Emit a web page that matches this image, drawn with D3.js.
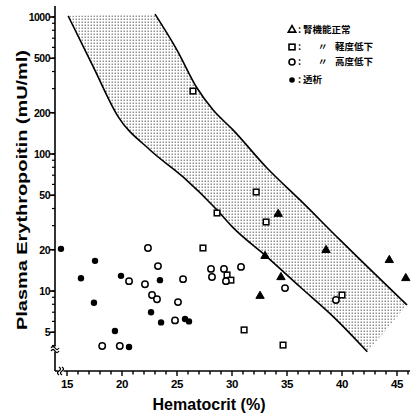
<!DOCTYPE html>
<html><head><meta charset="utf-8">
<script src="https://cdn.jsdelivr.net/npm/d3@7"></script>
<style>body{margin:0;background:#fff}svg{display:block}</style>
</head><body>
<svg id="c" width="413" height="417"></svg>
<script>
// ---- data ----
const xTicksMajor = [15, 20, 25, 30, 35, 40, 45];
const yTickLabels = [5, 10, 20, 50, 100, 200, 500, 1000];
// shaded normal range band (Hct %, EPO mU/ml)
const bandLower = [[15.1,1020],[17.4,430],[19.6,190],[22.55,107],[25.55,68],[28.64,39],[30.1,29],[33.2,17.7],[36.2,10.7],[39.2,6.5],[42.3,3.6]];
const bandUpper = [[23.0,1050],[25.0,574],[26.82,303],[28.27,210],[30.09,150],[33.18,79],[36.18,46.2],[39.82,23.6],[45.91,7.9]];
// 腎機能正常
const normalRenal = [[34.2,36.5],[33.0,18.0],[38.55,19.9],[44.3,16.8],[45.8,12.4],[34.45,12.6],[32.55,9.2]];
// 軽度低下
const mildDecrease = [[26.45,288],[32.2,52.8],[28.64,37.1],[33.1,31.9],[27.36,20.6],[29.55,13.1],[29.9,12.0],[40.0,9.35],[31.1,5.2],[34.64,4.03]];
// 高度低下
const severeDecrease = [[18.2,3.97],[19.8,3.97],[20.64,11.8],[22.36,20.6],[23.27,15.2],[22.09,11.2],[22.73,9.35],[23.18,8.7],[24.82,6.1],[25.09,8.3],[25.55,12.2],[28.09,14.5],[28.18,12.65],[29.27,14.5],[29.45,11.8],[30.82,15.0],[34.82,10.5],[39.45,8.6]];
// 透析
const dialysis = [[14.45,20.3],[17.55,16.6],[16.27,12.4],[19.91,12.9],[17.45,8.2],[19.36,5.1],[20.64,3.9],[23.45,12.0],[22.64,7.0],[23.55,5.9],[25.73,6.25],[26.09,6.0]];
const legendLabels = ["腎機能正常", "軽度低下", "高度低下", "透析"];

// ---- scales ----
const svg = d3.select("#c");
const x = d3.scaleLinear().domain([15, 45]).range([67, 397]);
const y = d3.scaleLog().domain([10, 1000]).range([291, 17]);
const axisX = 55, axisY = 371;

// dot pattern
const defs = svg.append("defs");
const pat = defs.append("pattern").attr("id","dots").attr("width",3).attr("height",3).attr("patternUnits","userSpaceOnUse");
pat.append("rect").attr("x",0.6).attr("y",0.6).attr("width",1.2).attr("height",1.2).attr("fill","#555");

// band
const bandPts = bandLower.map(d => [x(d[0]), y(d[1])]);
const upperPts = bandUpper.map(d => [x(d[0]), y(d[1])]);
const curveGen = d3.line().curve(d3.curveMonotoneX);
const lowerPath = curveGen(bandPts);
const upperPath = curveGen(upperPts);
const lowerNode = svg.append("path").attr("d", lowerPath).attr("fill","none").attr("stroke","none").node();
const upperNode = svg.append("path").attr("d", upperPath).attr("fill","none").attr("stroke","none").node();
function sample(node){ const L=node.getTotalLength(), out=[]; for(let i=0;i<=200;i++){const p=node.getPointAtLength(L*i/200); out.push([p.x,p.y]);} return out; }
const poly = sample(lowerNode).concat(sample(upperNode).reverse());
svg.append("path").attr("d", "M" + poly.map(p=>p.join(",")).join("L") + "Z")
  .attr("fill","url(#dots)").attr("stroke","none");
svg.append("path").attr("d", lowerPath).attr("fill","none").attr("stroke","#000").attr("stroke-width",1.6);
svg.append("path").attr("d", upperPath).attr("fill","none").attr("stroke","#000").attr("stroke-width",1.6);

// axes lines
svg.append("line").attr("x1",axisX).attr("x2",axisX).attr("y1",6).attr("y2",axisY).attr("stroke","#000").attr("stroke-width",1.6);
svg.append("line").attr("x1",axisX).attr("x2",410).attr("y1",axisY).attr("y2",axisY).attr("stroke","#000").attr("stroke-width",1.6);

// y ticks
const minorY = [];
[1,10,100].forEach(dec => { for (let k=1;k<=9;k++){ const v=k*dec; if (v>=4 && v<=1000) minorY.push(v);} });
minorY.push(1000);
svg.selectAll(".ymin").data(minorY).enter().append("line")
  .attr("x1",axisX-3).attr("x2",axisX).attr("y1",d=>y(d)).attr("y2",d=>y(d)).attr("stroke","#000").attr("stroke-width",1.2);
svg.selectAll(".ymaj").data(yTickLabels).enter().append("line")
  .attr("x1",axisX-5).attr("x2",axisX).attr("y1",d=>y(d)).attr("y2",d=>y(d)).attr("stroke","#000").attr("stroke-width",1.6);
svg.selectAll(".ylab").data(yTickLabels).enter().append("text")
  .attr("x",axisX-5).attr("y",d=>y(d)).attr("dy","0.36em").attr("text-anchor","end")
  .attr("font-family","Liberation Sans, Arial, sans-serif").attr("font-weight","bold").attr("font-size",10.5)
  .attr("letter-spacing",-0.5).text(d=>d);

// x ticks
const minorX = d3.range(15, 47, 1);
svg.selectAll(".xmin").data(minorX).enter().append("line")
  .attr("x1",d=>x(d)).attr("x2",d=>x(d)).attr("y1",axisY).attr("y2",d=>axisY+(d%5===0?5:3.5)).attr("stroke","#000").attr("stroke-width",1.4);
svg.selectAll(".xlab").data(xTicksMajor).enter().append("text")
  .attr("x",d=>x(d)).attr("y",axisY+17).attr("text-anchor","middle")
  .attr("font-family","Liberation Sans, Arial, sans-serif").attr("font-weight","bold").attr("font-size",11.5)
  .attr("letter-spacing",-0.5).text(d=>d);

// axis break marks
function brk(cx, cy, vertical){
  const g = svg.append("g").attr("transform",`translate(${cx},${cy})` + (vertical?"":" rotate(90)"));
  g.append("rect").attr("x",-4).attr("y",-2.5).attr("width",8).attr("height",5).attr("fill","#fff");
  g.append("path").attr("d","M-4,-1 Q-2,-4 0,-1 T4,-1").attr("fill","none").attr("stroke","#000").attr("stroke-width",1.3);
  g.append("path").attr("d","M-4,2 Q-2,-1 0,2 T4,2").attr("fill","none").attr("stroke","#000").attr("stroke-width",1.3);
}
brk(axisX, 349, true);
brk(61, axisY, false);

// markers
const triPath = d3.symbol().type(d3.symbolTriangle).size(30)();
svg.selectAll(".tri").data(normalRenal).enter().append("path")
  .attr("d",triPath).attr("transform",d=>`translate(${x(d[0])},${y(d[1])})`)
  .attr("fill","#000").attr("stroke","#000").attr("stroke-width",1);
svg.selectAll(".sq").data(mildDecrease).enter().append("rect")
  .attr("x",d=>x(d[0])-2.8).attr("y",d=>y(d[1])-2.8).attr("width",5.6).attr("height",5.6)
  .attr("fill","#fff").attr("stroke","#000").attr("stroke-width",1.5);
svg.selectAll(".oc").data(severeDecrease).enter().append("circle")
  .attr("cx",d=>x(d[0])).attr("cy",d=>y(d[1])).attr("r",3.2)
  .attr("fill","#fff").attr("stroke","#000").attr("stroke-width",1.5);
svg.selectAll(".fc").data(dialysis).enter().append("circle")
  .attr("cx",d=>x(d[0])).attr("cy",d=>y(d[1])).attr("r",3.2).attr("fill","#000");

// legend
const lg = svg.append("g").attr("font-family","Noto Sans CJK JP, sans-serif").attr("font-weight","bold").attr("font-size",9.5);
const ly = [30, 47, 62, 80];
lg.append("path").attr("d",d3.symbol().type(d3.symbolTriangle).size(24)()).attr("transform",`translate(292,${ly[0]})`).attr("fill","#fff").attr("stroke","#000").attr("stroke-width",1.6);
lg.append("rect").attr("x",289).attr("y",ly[1]-2.8).attr("width",6).attr("height",5.6).attr("fill","#fff").attr("stroke","#000").attr("stroke-width",1.6);
lg.append("circle").attr("cx",292).attr("cy",ly[2]).attr("r",3).attr("fill","#fff").attr("stroke","#000").attr("stroke-width",1.6);
lg.append("circle").attr("cx",292).attr("cy",ly[3]).attr("r",2.8).attr("fill","#000");
ly.forEach(v => lg.append("text").attr("x",298).attr("y",v).attr("dy","0.35em").text(":"));
lg.append("text").attr("x",303).attr("y",ly[0]).attr("dy","0.35em").text(legendLabels[0]);
lg.append("text").attr("x",318).attr("y",ly[1]).attr("dy","0.35em").text("〃");
lg.append("text").attr("x",335).attr("y",ly[1]).attr("dy","0.35em").text(legendLabels[1]);
lg.append("text").attr("x",318).attr("y",ly[2]).attr("dy","0.35em").text("〃");
lg.append("text").attr("x",335).attr("y",ly[2]).attr("dy","0.35em").text(legendLabels[2]);
lg.append("text").attr("x",303).attr("y",ly[3]).attr("dy","0.35em").text(legendLabels[3]);

// axis titles
svg.append("text").attr("transform","translate(27,190) rotate(-90)").attr("text-anchor","middle")
  .attr("font-family","Liberation Sans, Arial, sans-serif").attr("font-weight","bold").attr("font-size",15)
  .attr("textLength",280).attr("lengthAdjust","spacingAndGlyphs")
  .text("Plasma Erythropoitin (mU/ml)");
svg.append("text").attr("x",209).attr("y",410).attr("text-anchor","middle")
  .attr("font-family","Liberation Sans, Arial, sans-serif").attr("font-weight","bold").attr("font-size",16)
  .text("Hematocrit (%)");
</script>
</body></html>
